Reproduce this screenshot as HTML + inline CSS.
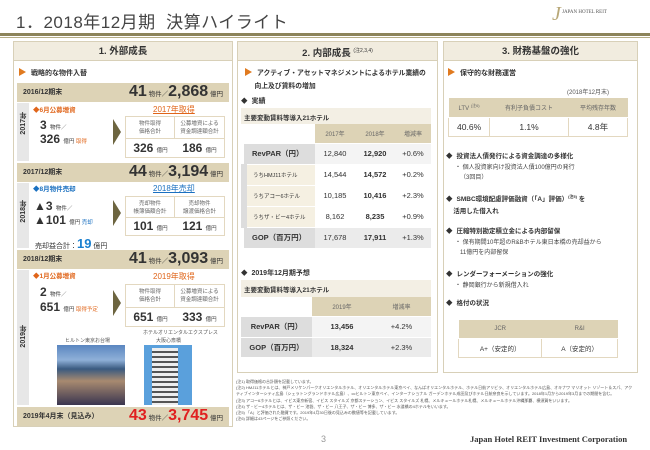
<!DOCTYPE html>
<html><head><meta charset="utf-8"><style>
*{margin:0;padding:0;box-sizing:border-box}
body{width:650px;height:450px;background:#fff;position:relative;overflow:hidden;font-family:"Liberation Sans","Noto Sans CJK JP",sans-serif;color:#333}
.a{position:absolute;white-space:nowrap}
.panel{position:absolute;border:1px solid #d8d0b8;background:#fff}
.ph{position:absolute;left:0;right:0;top:0;height:19px;background:#f1ecdf;border-bottom:1px solid #d8d0b8;text-align:center;font-size:9.5px;font-weight:bold;line-height:19px;color:#333}
.band{position:absolute;left:17px;width:212px;height:19px;background:#ddd3b6}
.band .l{position:absolute;left:6px;top:4px;font-size:7px;font-weight:bold}
.band .r{position:absolute;right:6px;top:0px;font-size:6.5px;font-weight:normal}
.band .r b{font-size:16px;font-weight:bold}
.side{position:absolute;left:17px;width:12px;background:#e7e7e7}
.vt{position:absolute;writing-mode:vertical-rl;transform:rotate(180deg);font-size:7px;font-weight:bold}
.box{position:absolute;left:125px;width:100px;border:1px solid #e3d8c0;background:#fff}
.box .c{position:absolute;top:0;width:50%;height:55%;font-size:5.5px;color:#666;text-align:center;line-height:7.5px;padding-top:4px;border-bottom:1px solid #e3d8c0}
.box .v{position:absolute;bottom:2px;width:50%;text-align:center;font-size:12px;font-weight:bold}
.box .v small{font-size:5.5px;font-weight:normal}
.arr{position:absolute;width:0;height:0;border-top:13px solid transparent;border-bottom:13px solid transparent;border-left:8px solid #6d6540}
table{border-collapse:collapse;position:absolute}
td{font-size:7.5px;text-align:center;border-bottom:1px solid #fff;white-space:nowrap}
.tri{display:inline-block;width:0;height:0;border-top:4px solid transparent;border-bottom:4px solid transparent;border-left:7px solid #e07a1f;margin-right:5px;vertical-align:-1px}
.dia{font-size:6.5px;margin-right:4px}
</style></head><body>
<div class="a" style="left:16px;top:8px;font-size:17px;color:#444;letter-spacing:0.5px">1．2018年12月期&nbsp; 決算ハイライト</div>
<div class="a" style="left:562px;top:10px;font-family:'Liberation Serif',serif;font-size:5px;color:#555">JAPAN HOTEL REIT</div>
<div class="a" style="left:552px;top:3px;font-family:'Liberation Serif',serif;font-size:20px;font-style:italic;color:#b8a878">J</div>
<div class="a" style="left:0;top:33px;width:650px;height:3px;background:#8c845a"></div>
<div class="a" style="left:0;top:37px;width:650px;height:1px;background:#b5ad85"></div>

<!-- Panel 1 -->
<div class="panel" style="left:13px;top:41px;width:220px;height:386px"><div class="ph">1. 外部成長</div></div>
<div class="a" style="left:19px;top:68px;font-size:7px;font-weight:bold"><span class="tri"></span>戦略的な物件入替</div>

<div class="band" style="top:83px"><span class="l">2016/12期末</span><span class="r"><b>41</b> 物件／<b>2,868</b> 億円</span></div>
<div class="side" style="top:103px;height:58px"></div><div class="vt" style="left:19px;top:112px">2017年</div>
<div class="a" style="left:33px;top:104px;font-size:6.5px;color:#e0651a;font-weight:bold">◆6月公募増資</div>
<div class="a" style="left:153px;top:104px;font-size:8px;color:#e0651a;text-decoration:underline">2017年取得</div>
<div class="a" style="left:40px;top:118px;font-size:12px;font-weight:bold">3 <span style="font-size:5.5px;font-weight:normal">物件／</span></div>
<div class="a" style="left:40px;top:132px;font-size:12px;font-weight:bold">326 <span style="font-size:5.5px;font-weight:normal">億円 <span style="color:#e0651a">取得</span></span></div>
<div class="arr" style="left:113px;top:119px"></div>
<div class="box" style="top:116px;height:42px"><div class="c" style="left:0;border-right:1px solid #e3d8c0">物件取得<br>価格合計</div><div class="c" style="left:50%">公募増資による<br>資金調達額合計</div><div class="v" style="left:0">326 <small>億円</small></div><div class="v" style="left:50%">186 <small>億円</small></div></div>

<div class="band" style="top:163px"><span class="l">2017/12期末</span><span class="r"><b>44</b> 物件／<b>3,194</b> 億円</span></div>
<div class="side" style="top:183px;height:65px"></div><div class="vt" style="left:19px;top:200px">2018年</div>
<div class="a" style="left:33px;top:183px;font-size:6.5px;color:#1a70c0;font-weight:bold">◆8月物件売却</div>
<div class="a" style="left:153px;top:183px;font-size:8px;color:#1a70c0;text-decoration:underline">2018年売却</div>
<div class="a" style="left:34px;top:199px;font-size:12px;font-weight:bold">▲3 <span style="font-size:5.5px;font-weight:normal">物件／</span></div>
<div class="a" style="left:34px;top:213px;font-size:12px;font-weight:bold">▲101 <span style="font-size:5.5px;font-weight:normal">億円 <span style="color:#1a70c0">売却</span></span></div>
<div class="arr" style="left:113px;top:200px"></div>
<div class="box" style="top:196px;height:40px"><div class="c" style="left:0;border-right:1px solid #e3d8c0">売却物件<br>帳簿価額合計</div><div class="c" style="left:50%">売却物件<br>譲渡価格合計</div><div class="v" style="left:0">101 <small>億円</small></div><div class="v" style="left:50%">121 <small>億円</small></div></div>
<div class="a" style="left:35px;top:236px;font-size:7px">売却益合計：<b style="font-size:13px;color:#1a80d0">19</b> 億円</div>

<div class="band" style="top:250px"><span class="l">2018/12期末</span><span class="r"><b>41</b> 物件／<b>3,093</b> 億円</span></div>
<div class="side" style="top:270px;height:135px"></div><div class="vt" style="left:19px;top:325px">2019年</div>
<div class="a" style="left:33px;top:270px;font-size:6.5px;color:#e0651a;font-weight:bold">◆1月公募増資</div>
<div class="a" style="left:153px;top:271px;font-size:8px;color:#e0651a">2019年取得</div>
<div class="a" style="left:40px;top:285px;font-size:12px;font-weight:bold">2 <span style="font-size:5.5px;font-weight:normal">物件／</span></div>
<div class="a" style="left:40px;top:300px;font-size:12px;font-weight:bold">651 <span style="font-size:5.5px;font-weight:normal">億円 <span style="color:#e0651a">取得予定</span></span></div>
<div class="arr" style="left:113px;top:290px"></div>
<div class="box" style="top:284px;height:43px"><div class="c" style="left:0;border-right:1px solid #e3d8c0">物件取得<br>価格合計</div><div class="c" style="left:50%">公募増資による<br>資金調達額合計</div><div class="v" style="left:0">651 <small>億円</small></div><div class="v" style="left:50%">333 <small>億円</small></div></div>
<div class="a" style="left:143px;top:329px;font-size:5px;color:#555">ホテルオリエンタルエクスプレス</div>
<div class="a" style="left:65px;top:337px;font-size:5px;color:#555">ヒルトン東京お台場</div>
<div class="a" style="left:156px;top:337px;font-size:5px;color:#555">大阪心斎橋</div>
<div class="a" style="left:57px;top:345px;width:68px;height:60px;background:linear-gradient(#5a86c0 0%,#8fb0d8 25%,#3a5a80 40%,#a88a70 60%,#3a3550 100%)"></div>
<div class="a" style="left:144px;top:345px;width:48px;height:60px;background:#5aa0dc"></div>
<div class="a" style="left:152px;top:348px;width:26px;height:57px;background:repeating-linear-gradient(#eee 0 3px,#555 3px 5px)"></div>
<div class="band" style="top:407px"><span class="l">2019年4月末（見込み）</span><span class="r" style="color:#e02020"><b>43</b> <span style="color:#333">物件／</span><b>3,745</b> <span style="color:#333">億円</span></span></div>

<!-- Panel 2 -->
<div class="panel" style="left:237px;top:41px;width:201px;height:332px"><div class="ph">2. 内部成長 <sup style="font-size:5px;font-weight:normal">(注2,3,4)</sup></div></div>
<div class="a" style="left:245px;top:67px;font-size:6.8px;font-weight:bold;line-height:13px"><span class="tri"></span>アクティブ・アセットマネジメントによるホテル業績の<br>&nbsp;&nbsp;&nbsp;&nbsp;&nbsp;向上及び賃料の増加</div>
<div class="a" style="left:241px;top:95px;font-size:7px;font-weight:bold"><span class="dia">◆</span>実績</div>
<div class="a" style="left:241px;top:108px;width:190px;height:16px;background:#f3efe4;font-size:6.5px;font-weight:bold;padding:4px 3px">主要変動賃料等導入21ホテル</div>
<table style="left:241px;top:124px;width:190px;table-layout:fixed">
<tr style="height:19px"><td style="width:71px;background:#fff"></td><td style="width:40px;background:#ddd3b6;font-size:6px;color:#666">2017年</td><td style="width:40px;background:#ddd3b6;font-size:6px;color:#666">2018年</td><td style="background:#ddd3b6;font-size:6px;color:#666">増減率</td></tr>
<tr style="height:21px;background:#f4f4f4"><td style="background:#ddd;font-weight:bold;text-align:left;padding-left:8px">RevPAR（円）</td><td>12,840</td><td><b>12,920</b></td><td>+0.6%</td></tr>
<tr style="height:21px"><td style="background:#f5f0e2;text-align:left;padding-left:6px;font-size:5.5px;border-left:6px solid #ddd">うちHMJ11ホテル</td><td>14,544</td><td><b>14,572</b></td><td>+0.2%</td></tr>
<tr style="height:21px"><td style="background:#f5f0e2;text-align:left;padding-left:6px;font-size:5.5px;border-left:6px solid #ddd">うちアコー6ホテル</td><td>10,185</td><td><b>10,416</b></td><td>+2.3%</td></tr>
<tr style="height:21px"><td style="background:#f5f0e2;text-align:left;padding-left:6px;font-size:5.5px;border-left:6px solid #ddd">うちザ・ビー4ホテル</td><td>8,162</td><td><b>8,235</b></td><td>+0.9%</td></tr>
<tr style="height:21px;background:#ebebeb"><td style="background:#ddd;font-weight:bold;text-align:left;padding-left:8px">GOP（百万円）</td><td>17,678</td><td><b>17,911</b></td><td>+1.3%</td></tr>
</table>
<div class="a" style="left:241px;top:267px;font-size:7px;font-weight:bold"><span class="dia">◆</span>2019年12月期予想</div>
<div class="a" style="left:241px;top:280px;width:190px;height:17px;background:#f3efe4;font-size:6.5px;font-weight:bold;padding:4px 3px">主要変動賃料等導入21ホテル</div>
<table style="left:241px;top:297px;width:190px;table-layout:fixed">
<tr style="height:19px"><td style="width:71px"></td><td style="width:60px;background:#ddd3b6;font-size:6px;color:#666">2019年</td><td style="background:#ddd3b6;font-size:6px;color:#666">増減率</td></tr>
<tr style="height:21px;background:#f4f4f4"><td style="background:#ddd;font-weight:bold">RevPAR（円）</td><td><b>13,456</b></td><td>+4.2%</td></tr>
<tr style="height:20px;background:#ebebeb"><td style="background:#ddd;font-weight:bold">GOP（百万円）</td><td><b>18,324</b></td><td>+2.3%</td></tr>
</table>

<!-- Panel 3 -->
<div class="panel" style="left:443px;top:41px;width:195px;height:332px"><div class="ph">3. 財務基盤の強化</div></div>
<div class="a" style="left:448px;top:68px;font-size:7px;font-weight:bold"><span class="tri"></span>保守的な財務運営</div>
<div class="a" style="left:567px;top:87px;font-size:6px;color:#555">(2018年12月末)</div>
<table style="left:448px;top:98px;width:180px">
<tr style="height:19px;background:#ddd3b6"><td style="font-size:6px;color:#666">LTV <sup style="font-size:4px">(注6)</sup></td><td style="font-size:6px;color:#666">有利子負債コスト</td><td style="font-size:6px;color:#666">平均残存年数</td></tr>
<tr style="height:19px"><td style="font-size:8.5px;border:1px solid #e3d8c0">40.6%</td><td style="font-size:8.5px;border:1px solid #e3d8c0">1.1%</td><td style="font-size:8.5px;border:1px solid #e3d8c0">4.8年</td></tr>
</table>
<div class="a" style="left:446px;top:150px;font-size:6.5px;font-weight:bold;line-height:13px"><span class="dia">◆</span>投資法人債発行による資金調達の多様化</div>
<div class="a" style="left:455px;top:163px;font-size:6px;color:#444;line-height:10px">・ 個人投資家向け投資法人債100億円の発行<br>&nbsp;&nbsp;&nbsp;（3回目）</div>
<div class="a" style="left:446px;top:191px;font-size:6.5px;font-weight:bold;line-height:12px"><span class="dia">◆</span>SMBC環境配慮評価融資（「A」評価）<sup style="font-size:4px">(注5)</sup> を<br>&nbsp;&nbsp;&nbsp;&nbsp;活用した借入れ</div>
<div class="a" style="left:446px;top:225px;font-size:6.5px;font-weight:bold"><span class="dia">◆</span>圧縮特別勘定積立金による内部留保</div>
<div class="a" style="left:455px;top:238px;font-size:6px;color:#444;line-height:10px">・ 保有期間10年超のR&amp;Bホテル東日本橋の売却益から<br>&nbsp;&nbsp;&nbsp;11億円を内部留保</div>
<div class="a" style="left:446px;top:268px;font-size:6.5px;font-weight:bold"><span class="dia">◆</span>レンダーフォーメーションの強化</div>
<div class="a" style="left:455px;top:280px;font-size:6px;color:#444">・ 静岡銀行から新規借入れ</div>
<div class="a" style="left:446px;top:297px;font-size:6.5px;font-weight:bold"><span class="dia">◆</span>格付の状況</div>
<table style="left:458px;top:320px;width:160px">
<tr style="height:18px;background:#ddd3b6"><td style="font-size:6px;color:#666">JCR</td><td style="font-size:6px;color:#666">R&amp;I</td></tr>
<tr style="height:19px"><td style="font-size:6.5px;border:1px solid #e3d8c0">A+（安定的）</td><td style="font-size:6.5px;border:1px solid #e3d8c0">A（安定的）</td></tr>
</table>

<!-- footnotes -->
<div class="a" style="left:236px;top:379px;font-size:4px;color:#555;line-height:6.2px;white-space:normal;width:400px;height:48px;overflow:hidden">
(注1) 取得価格の合計額を記載しています。<br>
(注2) HMJ11ホテルとは、神戸メリケンパークオリエンタルホテル、オリエンタルホテル東京ベイ、なんばオリエンタルホテル、ホテル日航アリビラ、オリエンタルホテル広島、オキナワ マリオット リゾート＆スパ、アクティブインターシティ広島（シェラトングランドホテル広島）、ccヒルトン東京ベイ、インターナショナル ガーデンホテル成田及びホテル日航奈良を示しています。2018年1月から2019年3月までの期間を含む。<br>
(注3) アコー6ホテルとは、イビス東京新宿、イビス スタイルズ 京都ステーション、イビス スタイルズ 札幌、メルキュールホテル札幌、メルキュールホテル沖縄那覇、横須賀をいいます。<br>
(注4) ザ・ビー4ホテルとは、ザ・ビー 池袋、ザ・ビー 八王子、ザ・ビー 博多、ザ・ビー 水道橋の4ホテルをいいます。<br>
(注5) 「A」と評価された融資です。2019年4月30日後の見込みの数値等を記載しています。<br>
(注6) 詳細は43ページをご参照ください。</div>
<div class="a" style="left:321px;top:434px;font-size:9px;color:#999">3</div>
<div class="a" style="left:470px;top:434px;font-family:'Liberation Serif',serif;font-size:8.5px;font-weight:bold;color:#333">Japan Hotel REIT Investment Corporation</div>
</body></html>
